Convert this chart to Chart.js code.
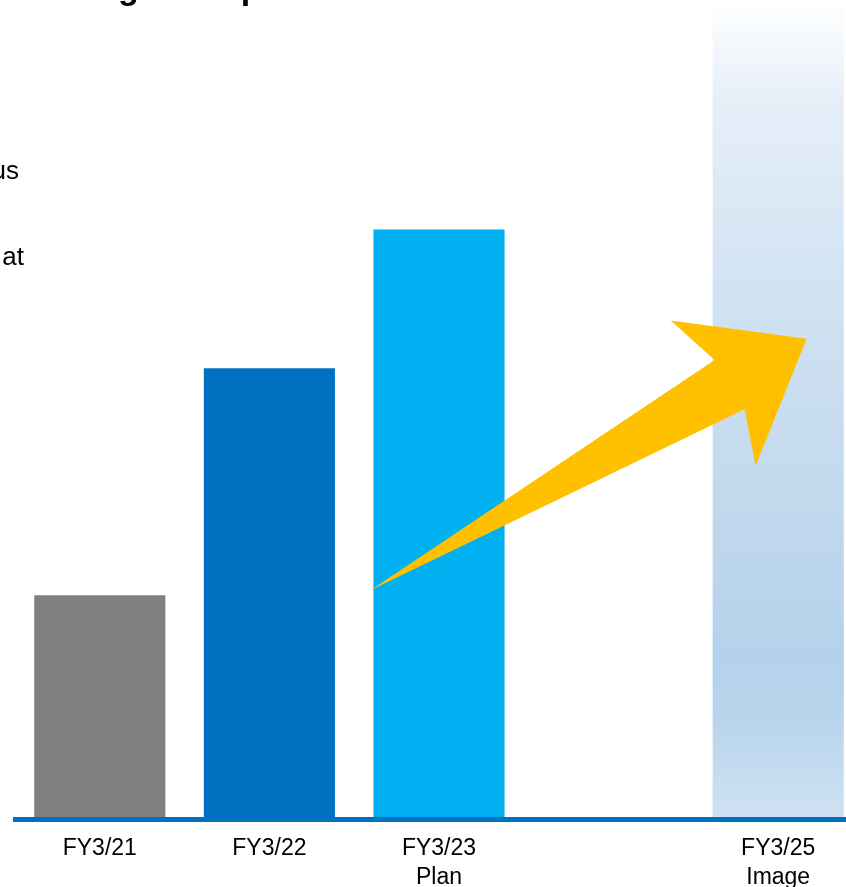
<!DOCTYPE html>
<html>
<head>
<meta charset="utf-8">
<script src="https://cdn.jsdelivr.net/npm/chart.js@4/dist/chart.umd.min.js"></script>
<style>
    html, body { margin: 0; padding: 0; background: #ffffff; overflow: hidden; width: 846px; height: 887px; }
    #wrap { position: fixed; left: 0; top: 0; width: 863px; height: 906px; }
    canvas { display: block; }
</style>
</head>
<body>
<div id="wrap"><canvas id="growthChart" width="863" height="906"></canvas></div>
<script>
// categories and values (y scale 0-100)
const categories = [["FY3/21"], ["FY3/22"], ["FY3/23", "Plan"], [""], ["FY3/25", "Image"]];
const values = [27.4, 55.1, 72.0, null, 100];
const barColors = ["#808080", "#0070C0", "#00B0F0", "#00B0F0", null];

// arrow outline in (category index, value) units
const arrowX = [1.596, 3.625, 3.366, 4.168, 3.867, 3.802];
const arrowY = [28.0, 56.1, 60.9, 58.7, 43.2, 50.1];

// text fragments cut off by the crop
const titleText = "Medium-term growth path";
const bodyLines = ["focus", "aim at"];

const FONT = "'Liberation Sans', Arial, sans-serif";

function columnGradient(chart) {
    const area = chart.chartArea;
    if (!area) return "#c9ddf0";
    const g = chart.ctx.createLinearGradient(0, area.top, 0, area.bottom);
    g.addColorStop(0, "#ffffff");
    g.addColorStop(0.12, "#e6eff8");
    g.addColorStop(0.37, "#d0e2f2");
    g.addColorStop(0.59, "#c3d9ee");
    g.addColorStop(0.8, "#b4d2eb");
    g.addColorStop(0.87, "#b7d4ec");
    g.addColorStop(1, "#cfe2f2");
    return g;
}

const arrowPlugin = {
    id: "arrow",
    afterDatasetsDraw(chart) {
        const { ctx, scales } = chart;
        ctx.save();
        ctx.beginPath();
        arrowX.forEach((v, i) => {
            const px = scales.x.getPixelForValue(v);
            const py = scales.y.getPixelForValue(arrowY[i]);
            if (i === 0) ctx.moveTo(px, py);
            else ctx.lineTo(px, py);
        });
        ctx.closePath();
        ctx.fillStyle = "#FFC000";
        ctx.fill();
        ctx.restore();
    },
    afterDraw(chart) {
        const ctx = chart.ctx;
        ctx.save();
        ctx.fillStyle = "#000000";
        ctx.textBaseline = "alphabetic";
        // title, only descenders visible
        ctx.font = "bold 34px " + FONT;
        const prefix = ctx.measureText("Medium-term ").width;
        ctx.textAlign = "left";
        ctx.fillText(titleText, 118 - prefix, -1);
        // body text, clipped at the left edge
        ctx.font = "26px " + FONT;
        ctx.textAlign = "right";
        ctx.fillText(bodyLines[0], 19, 179);
        ctx.fillText(bodyLines[1], 24, 265);
        ctx.restore();
    },
};

const ctx = document.getElementById("growthChart").getContext("2d");
new Chart(ctx, {
    type: "bar",
    data: {
        labels: categories,
        datasets: [
            {
                data: values,
                backgroundColor: (c) =>
                    c.dataIndex === 4 ? columnGradient(c.chart) : barColors[c.dataIndex],
                borderWidth: 0,
                barPercentage: 0.773,
                categoryPercentage: 1,
            },
        ],
    },
    options: {
        responsive: false,
        animation: false,
        layout: { padding: { left: 15, right: 0, top: 0, bottom: 0 } },
        plugins: {
            legend: { display: false },
            tooltip: { enabled: false },
        },
        scales: {
            x: {
                grid: { display: false, drawTicks: false },
                border: { display: true, color: "#0070C0", width: 5, z: 1 },
                ticks: {
                    color: "#000000",
                    padding: 14.5,
                    maxRotation: 0,
                    autoSkip: false,
                    font: { size: 23, family: FONT, lineHeight: 1.24 },
                },
            },
            y: {
                display: false,
                min: 0,
                max: 100,
            },
        },
    },
    plugins: [arrowPlugin],
});
</script>
</body>
</html>
